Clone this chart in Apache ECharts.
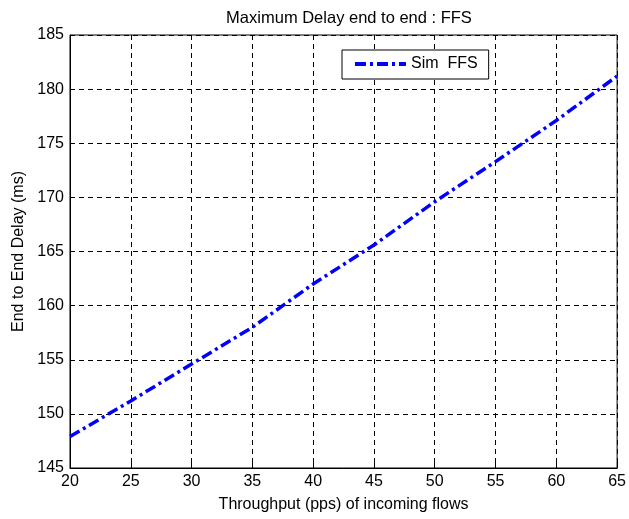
<!DOCTYPE html>
<html>
<head>
<meta charset="utf-8">
<script src="https://cdn.jsdelivr.net/npm/echarts@6/dist/echarts.min.js"></script>
<style>
  html, body { margin: 0; padding: 0; background: #fff; }
  #chart { width: 629px; height: 519px; }
</style>
</head>
<body>
<div id="chart"></div>
<script>
// throughput (pps) and measured max delay (ms)
const throughput = [20, 25, 30, 35, 40, 45, 50, 55, 60, 65]
const delaySimFFS = [147.9, 151.2, 154.6, 158.0, 162.0, 165.6, 169.6, 173.3, 177.1, 181.2]

const font = '"Liberation Sans", Arial, sans-serif'
const dashDot = [11, 4, 3, 4]

const chart = echarts.init(document.getElementById('chart'))

const option = {
  animation: false,
  backgroundColor: '#fff',
  title: {
    text: 'Maximum Delay end to end : FFS',
    left: 344,
    textAlign: 'center',
    top: 5,
    textStyle: { fontFamily: font, fontSize: 16.5, fontWeight: 'normal', color: '#000' }
  },
  legend: {
    left: 342,
    top: 50,
    data: ['Sim  FFS'],
    itemWidth: 51,
    itemHeight: 4,
    padding: [6, 11, 7, 11],
    backgroundColor: '#fff',
    borderColor: '#000',
    borderWidth: 1,
    borderRadius: 0,
    lineStyle: { width: 4, type: dashDot, color: '#0000ff' },
    textStyle: { fontFamily: font, fontSize: 16, color: '#000' }
  },
  grid: {
    left: 70,
    right: 10,
    top: 35,
    bottom: 51,
    show: true,
    borderColor: '#000',
    borderWidth: 1
  },
  xAxis: {
    type: 'value',
    min: 20,
    max: 65,
    interval: 5,
    name: 'Throughput (pps) of incoming flows',
    nameLocation: 'middle',
    nameGap: 29,
    nameTextStyle: { fontFamily: font, fontSize: 16, color: '#000' },
    axisLine: { show: true, lineStyle: { color: '#000', width: 1 } },
    axisTick: { show: true, inside: true, length: 5, lineStyle: { color: '#000' } },
    axisLabel: { fontFamily: font, fontSize: 16, color: '#000', margin: 6 },
    splitLine: { show: true, lineStyle: { color: '#000', type: [5, 4], width: 1 } }
  },
  yAxis: {
    type: 'value',
    min: 145,
    max: 185,
    interval: 5,
    name: 'End to End Delay (ms)',
    nameLocation: 'middle',
    nameGap: 43,
    nameTextStyle: { fontFamily: font, fontSize: 16, color: '#000' },
    axisLine: { show: true, lineStyle: { color: '#000', width: 1 } },
    axisTick: { show: true, inside: true, length: 5, lineStyle: { color: '#000' } },
    axisLabel: { fontFamily: font, fontSize: 16, color: '#000', margin: 6 },
    splitLine: { show: true, lineStyle: { color: '#000', type: [5, 4], width: 1 } }
  },
  series: [{
    name: 'Sim  FFS',
    type: 'line',
    data: throughput.map((x, i) => [x, delaySimFFS[i]]),
    showSymbol: false,
    symbol: 'none',
    smooth: false,
    color: '#0000ff',
    lineStyle: { color: '#0000ff', width: 3.5, type: dashDot }
  }]
}

chart.setOption(option)
</script>
</body>
</html>
